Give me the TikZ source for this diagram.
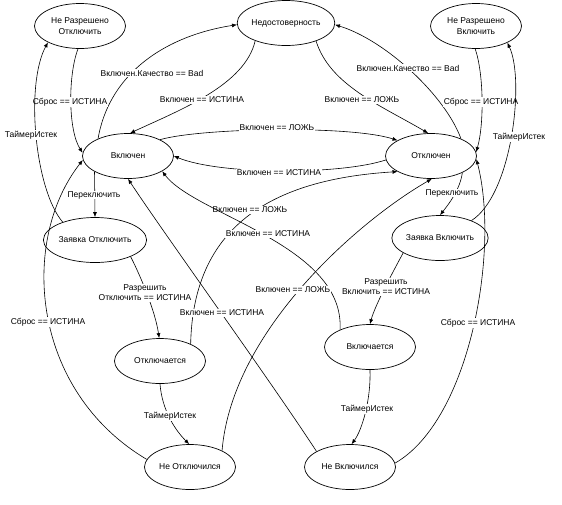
\documentclass[tikz,border=0pt]{standalone}
\usepackage{fontspec}
\setmainfont{Liberation Sans}
\usetikzlibrary{shapes.geometric,arrows.meta}
\begin{document}
\begin{tikzpicture}[x=1pt,y=-1pt,
  state/.style={ellipse,draw,line width=0.7pt,minimum width=91pt,minimum height=45pt,inner sep=0pt,align=center,font=\fontsize{8.5}{10.5}\selectfont},
  edge/.style={line width=0.6pt,-{Latex[length=5pt,width=4pt]}},
  lbl/.style={fill=white,inner sep=0.6pt,align=center,font=\fontsize{8.5}{10}\selectfont}]
\useasboundingbox (0,0) rectangle (562,504);
% states
\node[state] (nro)  at (80,26)  {Не Разрешено\\Отключить};
\node[state] (ned)  at (286,23) {Недостоверность};
\node[state] (nrv)  at (476,26) {Не Разрешено\\Включить};
\node[state] (vkl)  at (128,156) {Включен};
\node[state] (otk)  at (431,156) {Отключен};
\node[state] (zo)   at (95,240) {Заявка Отключить};
\node[state] (zv)   at (440,238) {Заявка Включить};
\node[state] (otkl) at (160,361) {Отключается};
\node[state] (vklu) at (370,347) {Включается};
\node[state] (neo)  at (190,467) {Не Отключился};
\node[state] (nev)  at (350,467) {Не Включился};
% top edges
\draw[edge] (vkl.150) .. controls (110,70) and (170,35) .. (ned.182)
  node[lbl] at (152,73) {Включен.Качество == Bad};
\draw[edge] (ned.210) .. controls (245,85) and (180,110) .. (vkl.85)
  node[lbl] at (202,100) {Включен == ИСТИНА};
\draw[edge] (ned.329) .. controls (330,85) and (380,105) .. (otk.97)
  node[lbl] at (362,100) {Включен == ЛОЖЬ};
\draw[edge] (otk.30) .. controls (445,95) and (385,40) .. (ned.358)
  node[lbl] at (408,68) {Включен.Качество == Bad};
% side edges
\draw[edge] (nro.265) .. controls (68,75) and (68,130) .. (vkl.176)
  node[lbl] at (70,102) {Сброс == ИСТИНА};
\draw[edge] (zo.151) .. controls (35,190) and (25,85) .. (nro.207)
  node[lbl] at (31,135) {ТаймерИстек};
\draw[edge] (nrv.268) .. controls (484,75) and (484,125) .. (otk.5)
  node[lbl] at (481,102) {Сброс == ИСТИНА};
\draw[edge] (zv.29) .. controls (512,195) and (525,80) .. (nrv.332)
  node[lbl] at (519,137) {ТаймерИстек};
% middle horizontal
\draw[edge] (vkl.27) .. controls (200,128) and (350,125) .. (otk.155)
  node[lbl] at (277,128) {Включен == ЛОЖЬ};
\draw[edge] (otk.185) .. controls (340,175) and (220,175) .. (vkl.0)
  node[lbl] at (279,173) {Включен == ИСТИНА};
% Переключить
\draw[edge] (vkl.205) -- (zo.north)
  node[lbl] at (94,195) {Переключить};
\draw[edge] (otk.332) .. controls (460,190) and (448,205) .. (zv.north)
  node[lbl] at (452,193) {Переключить};
% Разрешить
\draw[edge] (zo.335) .. controls (140,275) and (155,310) .. (otkl.92)
  node[lbl] at (145,293) {Разрешить\\Отключить == ИСТИНА};
\draw[edge] (zv.202) .. controls (395,268) and (375,305) .. (vklu.north)
  node[lbl] at (386,287) {Разрешить\\Включить == ИСТИНА};
% ТаймерИстек
\draw[edge] (otkl.south) .. controls (162,410) and (175,430) .. (neo.92)
  node[lbl] at (170,416) {ТаймерИстек};
\draw[edge] (vklu.south) .. controls (371,400) and (362,430) .. (nev.86)
  node[lbl] at (367,409) {ТаймерИстек};
% Сброс from bottom
\draw[edge] (neo.170) .. controls (30,390) and (20,240) .. (vkl.185)
  node[lbl] at (48,322) {Сброс == ИСТИНА};
\draw[edge] (nev.5) .. controls (470,420) and (500,250) .. (otk.356)
  node[lbl] at (478,323) {Сброс == ИСТИНА};
% crossing edges
\draw[edge] (otkl.29) .. controls (193,235) and (260,180) .. (otk.205)
  node[lbl] at (250,210) {Включен == ЛОЖЬ};
\draw[edge] (vklu.150) .. controls (345,245) and (195,215) .. (vkl.336)
  node[lbl] at (268,234) {Включен == ИСТИНА};
\draw[edge] (neo.27) .. controls (232,330) and (360,220) .. (otk.272)
  node[lbl] at (293,290) {Включен == ЛОЖЬ};
\draw[edge] (nev.155) .. controls (270,380) and (165,235) .. (vkl.south)
  node[lbl] at (222,313) {Включен == ИСТИНА};
\end{tikzpicture}
\end{document}
